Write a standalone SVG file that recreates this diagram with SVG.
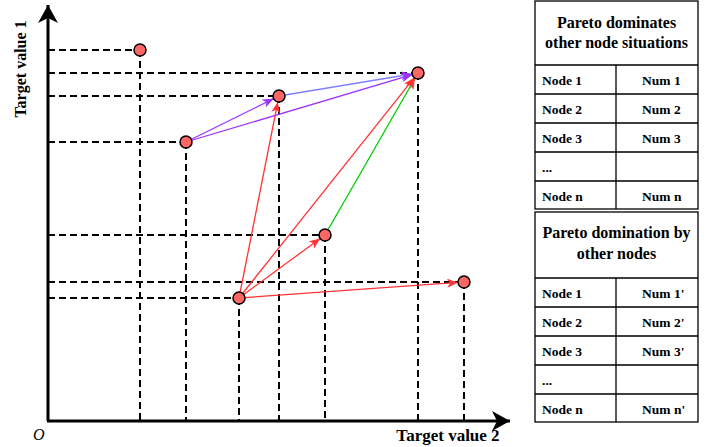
<svg xmlns="http://www.w3.org/2000/svg" width="718" height="447" viewBox="0 0 718 447">
<style>
.dash{stroke:#000;stroke-width:2;stroke-dasharray:7 4;fill:none}
.axis{stroke:#000;stroke-width:3;fill:none}
.node{fill:#FF6666;stroke:#000;stroke-width:1.5}
.lbl{font-family:"Liberation Serif","Times New Roman",serif;font-weight:bold;fill:#000}
.hdr{font-size:16px;text-anchor:middle}
.cell{font-size:13.5px}
.tb{fill:#fff;stroke:#000;stroke-width:1.3}
.tl{stroke:#000;stroke-width:1.3}
.red{stroke:#FF3333;stroke-width:1.3;fill:none;marker-end:url(#mRed)}
.pur{stroke:#9933FF;stroke-width:1.3;fill:none;marker-end:url(#mPur)}
.blu{stroke:#7F7FFF;stroke-width:1.3;fill:none;marker-end:url(#mPur)}
.grn{stroke:#00CC00;stroke-width:1.3;fill:none;marker-end:url(#mRed)}
</style>
<defs>
<marker id="mRed" markerUnits="userSpaceOnUse" markerWidth="12" markerHeight="10" refX="11" refY="4.5" orient="auto"><path d="M0,0 L11,4.5 L0,9 L3,4.5 Z" fill="#FF3333"/></marker>
<marker id="mPur" markerUnits="userSpaceOnUse" markerWidth="12" markerHeight="10" refX="11" refY="4.5" orient="auto"><path d="M0,0 L11,4.5 L0,9 L3,4.5 Z" fill="#9933FF"/></marker>
<marker id="mAx" markerUnits="userSpaceOnUse" markerWidth="20" markerHeight="20" refX="18" refY="10" orient="auto"><path d="M0,0 L18,10 L0,20 L5,10 Z" fill="#000"/></marker>
</defs>
<rect width="718" height="447" fill="#fff"/>
<g id="guides">
<path class="dash" d="M48,50H140M48,73H418M48,96H279M48,142H186M48,235H325M48,282H464M48,298H239"/>
<path class="dash" d="M140,50V421M186,142V421M279,96V421M418,73V421M325,235V421M464,282V421M239,298V421"/>
</g>
<g id="axes">
<path class="axis" d="M48,421V5" marker-end="url(#mAx)"/>
<path class="axis" d="M47,421H510" marker-end="url(#mAx)"/>
<text class="lbl" x="0" y="0" font-size="16" text-anchor="middle" transform="translate(26,69) rotate(-90)">Target value 1</text>
<text class="lbl" x="448" y="441" font-size="17" text-anchor="middle">Target value 2</text>
<text x="33" y="440" font-family="Liberation Serif,serif" font-style="italic" font-size="16">O</text>
</g>
<g id="connectors">
<line class="pur" x1="186" y1="142" x2="273.6" y2="98.7"/>
<line class="pur" x1="186" y1="142" x2="412.2" y2="74.7"/>
<line class="blu" x1="279" y1="96" x2="412.1" y2="74"/>
<line class="red" x1="239" y1="298" x2="277.8" y2="101.9"/>
<line class="red" x1="239" y1="298" x2="414.3" y2="77.7"/>
<line class="red" x1="239" y1="298" x2="320.2" y2="238.5"/>
<line class="red" x1="239" y1="298" x2="458" y2="282.4"/>
<line class="grn" x1="325" y1="235" x2="415" y2="78.2"/>
</g>
<g id="node-a"><circle class="node" cx="140" cy="50" r="6"/></g>
<g id="node-b"><circle class="node" cx="186" cy="142" r="6"/></g>
<g id="node-c"><circle class="node" cx="279" cy="96" r="6"/></g>
<g id="node-d"><circle class="node" cx="418" cy="73" r="6"/></g>
<g id="node-e"><circle class="node" cx="325" cy="235" r="6"/></g>
<g id="node-f"><circle class="node" cx="239" cy="298" r="6"/></g>
<g id="node-g"><circle class="node" cx="464" cy="282" r="6"/></g>
<g id="table-dominates">
<rect class="tb" x="535" y="1" width="163" height="208"/>
<path class="tl" d="M535,65H698M535,94H698M535,123H698M535,152H698M535,181H698M616,65V209"/>
<text class="lbl hdr" x="616.5" y="28">Pareto dominates</text>
<text class="lbl hdr" x="616.5" y="48">other node situations</text>
<text class="lbl cell" x="542" y="85">Node 1</text><text class="lbl cell" x="642" y="85">Num 1</text>
<text class="lbl cell" x="542" y="114">Node 2</text><text class="lbl cell" x="642" y="114">Num 2</text>
<text class="lbl cell" x="542" y="143">Node 3</text><text class="lbl cell" x="642" y="143">Num 3</text>
<text class="lbl cell" x="542" y="172">...</text>
<text class="lbl cell" x="542" y="201">Node n</text><text class="lbl cell" x="642" y="201">Num n</text>
</g>
<g id="table-dominated">
<rect class="tb" x="535" y="212" width="163" height="210"/>
<path class="tl" d="M535,278H698M535,307H698M535,336H698M535,365H698M535,394H698M616,278V422"/>
<text class="lbl hdr" x="616.5" y="238">Pareto domination by</text>
<text class="lbl hdr" x="616.5" y="259">other nodes</text>
<text class="lbl cell" x="542" y="298">Node 1</text><text class="lbl cell" x="642" y="298">Num 1'</text>
<text class="lbl cell" x="542" y="327">Node 2</text><text class="lbl cell" x="642" y="327">Num 2'</text>
<text class="lbl cell" x="542" y="356">Node 3</text><text class="lbl cell" x="642" y="356">Num 3'</text>
<text class="lbl cell" x="542" y="385">...</text>
<text class="lbl cell" x="542" y="414">Node n</text><text class="lbl cell" x="642" y="414">Num n'</text>
</g>
</svg>
